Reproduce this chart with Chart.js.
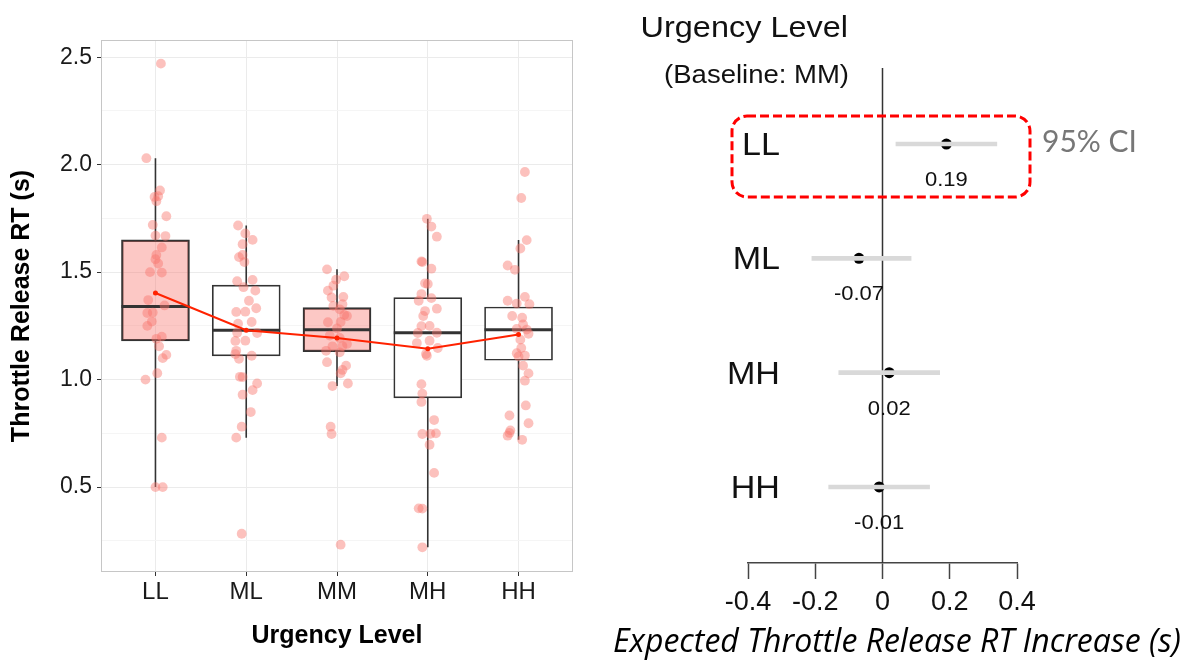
<!DOCTYPE html>
<html>
<head>
<meta charset="utf-8">
<script src="https://cdn.jsdelivr.net/npm/chart.js@4.4.0/dist/chart.umd.min.js"></script>
<style>
  body { margin: 0; background: #fff; width: 1188px; height: 667px; overflow: hidden; position: relative; }
  #boxChart { position: absolute; left: 0; top: 0; }
  #forestChart { position: absolute; left: 590px; top: 0; }
</style>
</head>
<body>
<canvas id="boxChart" width="590" height="667"></canvas>
<canvas id="forestChart" width="598" height="667"></canvas>
<script>
const levels = ['LL', 'ML', 'MM', 'MH', 'HH'];

// box summaries (s)
const boxQ1 = [1.18, 1.11, 1.13, 0.915, 1.09];
const boxMedian = [1.34, 1.23, 1.232, 1.218, 1.232];
const boxQ3 = [1.65, 1.44, 1.335, 1.382, 1.338];
const whiskerLow = [0.5, 0.73, 0.97, 0.22, 0.72];
const whiskerHigh = [2.03, 1.717, 1.513, 1.748, 1.649];
const levelMeans = [1.403, 1.23, 1.194, 1.144, 1.21];

// per-driver release times and their horizontal jitter
const rtLL = [2.47, 2.03, 1.88, 1.85, 1.853, 1.83, 1.76, 1.72, 1.67, 1.668, 1.615, 1.58, 1.56, 1.54, 1.5, 1.498,
  1.37, 1.345, 1.31, 1.312, 1.27, 1.25, 1.19, 1.2, 1.155, 1.1, 1.115, 1.03, 1.0, 0.73, 0.5, 0.5];
const jitterLL = [0.06, -0.1, 0.05, -0.01, 0.03, 0.01, 0.12, -0.03, 0, 0.11, 0.07, 0.01, 0, 0.03, -0.06, 0.07,
  -0.08, 0.1, -0.09, -0.03, -0.04, -0.09, 0.01, 0.07, 0.04, 0.08, 0.12, 0.02, -0.11, 0.07, 0, 0.08];
const rtML = [1.717, 1.68, 1.65, 1.63, 1.57, 1.58, 1.547, 1.458, 1.464, 1.43, 1.414, 1.367, 1.332, 1.315, 1.316, 1.268, 1.26,
  1.217, 1.218, 1.181, 1.18, 1.134, 1.119, 1.097, 1.111, 1.013, 1.012, 0.982, 0.951, 0.93, 0.849, 0.781, 0.73, 0.283];
const jitterML = [-0.09, -0.01, 0.07, -0.04, -0.08, -0.04, -0.02, -0.1, 0.07, -0.03, 0.1, 0.03, 0.11, -0.11, -0.01, 0.06, -0.09,
  0.12, -0.1, -0.01, -0.12, -0.11, -0.12, -0.08, 0.06, -0.07, -0.04, 0.12, 0.07, -0.04, 0.05, -0.05, -0.11, -0.05];
const rtMM = [1.513, 1.481, 1.465, 1.437, 1.414, 1.385, 1.382, 1.351, 1.343, 1.327, 1.296, 1.301, 1.268, 1.267, 1.238, 1.205,
  1.194, 1.166, 1.155, 1.156, 1.134, 1.127, 1.081, 1.065, 1.045, 1.029, 0.982, 0.97, 0.781, 0.747, 0.232];
const jitterMM = [-0.11, 0.08, -0.01, -0.04, -0.1, 0.07, -0.06, 0.06, -0.04, 0.03, 0.11, 0.08, 0.04, -0.1, 0, -0.08,
  0.03, 0.11, -0.05, 0.06, -0.12, 0.03, -0.11, 0.1, 0.06, 0.04, 0.12, -0.05, -0.07, -0.06, 0.04];
const rtMH = [1.748, 1.712, 1.665, 1.55, 1.547, 1.516, 1.448, 1.445, 1.398, 1.379, 1.367, 1.33, 1.319, 1.296, 1.249, 1.25,
  1.217, 1.218, 1.181, 1.17, 1.147, 1.119, 1.111, 0.979, 0.935, 0.896, 0.812, 0.747, 0.748, 0.75, 0.697, 0.566, 0.401, 0.4, 0.22];
const jitterMH = [-0.01, 0.04, 0.1, -0.07, -0.06, 0.04, -0.03, 0, -0.07, 0.04, -0.1, 0.1, -0.03, -0.05, -0.07, 0.02,
  -0.11, 0.1, 0.02, -0.12, 0.11, -0.02, -0.01, -0.07, -0.06, -0.07, 0.07, -0.06, 0.03, 0.09, 0.02, 0.07, -0.1, -0.06, -0.06];
const rtHH = [1.966, 1.845, 1.649, 1.61, 1.531, 1.511, 1.367, 1.354, 1.385, 1.351, 1.296, 1.288, 1.257, 1.236, 1.233, 1.213,
  1.186, 1.147, 1.123, 1.108, 1.112, 1.065, 1.029, 0.995, 0.88, 0.833, 0.797, 0.764, 0.739, 0.752, 0.72];
const jitterHH = [0.07, 0.03, 0.09, 0.02, -0.12, -0.04, -0.12, -0.02, 0.07, 0.12, -0.07, 0.04, 0.05, -0.02, 0.09, 0.11,
  0.02, 0.03, -0.02, 0, 0.07, 0.05, 0.11, 0.07, 0.08, -0.1, 0.11, -0.09, -0.12, -0.1, 0.04];

// model contrasts against MM
const contrastLevels = ['LL', 'ML', 'MH', 'HH'];
const estimate = [0.19, -0.07, 0.02, -0.01];
const ciLow = [0.04, -0.21, -0.13, -0.16];
const ciHigh = [0.34, 0.085, 0.17, 0.14];
const effectTicks = [-0.4, -0.2, 0, 0.2, 0.4];

const SANS = '"Liberation Sans", Arial, Helvetica, sans-serif';
Chart.defaults.font.family = SANS;

const groups = [[rtLL, jitterLL], [rtML, jitterML], [rtMM, jitterMM], [rtMH, jitterMH], [rtHH, jitterHH]];
const jitterPoints = groups.flatMap(([rt, jit], g) => rt.map((v, k) => ({ x: g + 1 + jit[k], y: v })));
const boxFill = levels.map(l => (l === 'LL' || l === 'MM') ? 'rgba(248,118,109,0.4)' : '#ffffff');
const isMajor = v => Math.abs(v * 2 - Math.round(v * 2)) < 1e-6;

// whiskers, medians and the panel frame for the box plot
const boxParts = {
  id: 'boxParts',
  beforeDatasetsDraw(chart) {
    const { ctx, chartArea: a } = chart;
    ctx.save();
    ctx.strokeStyle = '#c6c6c6';
    ctx.lineWidth = 1;
    ctx.strokeRect(a.left + 0.5, a.top + 0.5, a.width - 1, a.height - 1);
    ctx.restore();
  },
  beforeDatasetDraw(chart, args) {
    if (args.index !== 0) return;
    const { ctx, scales: { y } } = chart;
    ctx.save();
    ctx.strokeStyle = '#333';
    ctx.lineWidth = 1.6;
    args.meta.data.forEach((bar, i) => {
      ctx.beginPath();
      ctx.moveTo(bar.x, y.getPixelForValue(boxQ3[i]));
      ctx.lineTo(bar.x, y.getPixelForValue(whiskerHigh[i]));
      ctx.moveTo(bar.x, y.getPixelForValue(boxQ1[i]));
      ctx.lineTo(bar.x, y.getPixelForValue(whiskerLow[i]));
      ctx.stroke();
    });
    ctx.restore();
  },
  afterDatasetDraw(chart, args) {
    if (args.index !== 0) return;
    const { ctx, scales: { y } } = chart;
    ctx.save();
    ctx.strokeStyle = '#333';
    ctx.lineWidth = 3;
    args.meta.data.forEach((bar, i) => {
      const py = y.getPixelForValue(boxMedian[i]);
      ctx.beginPath();
      ctx.moveTo(bar.x - bar.width / 2, py);
      ctx.lineTo(bar.x + bar.width / 2, py);
      ctx.stroke();
    });
    ctx.restore();
  }
};

new Chart(document.getElementById('boxChart'), {
  type: 'scatter',
  data: {
    datasets: [
      {
        type: 'bar',
        data: levels.map((l, i) => ({ x: i + 1, y: [boxQ1[i], boxQ3[i]] })),
        backgroundColor: boxFill,
        borderColor: '#333',
        borderWidth: 1.7,
        borderSkipped: false,
        barThickness: 68,
        order: 3
      },
      {
        type: 'scatter',
        data: jitterPoints,
        pointRadius: 4.9,
        pointBackgroundColor: 'rgba(248,118,109,0.45)',
        pointBorderWidth: 0,
        order: 2
      },
      {
        type: 'line',
        data: levelMeans.map((m, i) => ({ x: i + 1, y: m })),
        borderColor: '#ff2200',
        borderWidth: 2,
        pointRadius: 2.5,
        pointBackgroundColor: '#ff2200',
        pointBorderWidth: 0,
        order: 1
      }
    ]
  },
  options: {
    responsive: false,
    animation: false,
    devicePixelRatio: 1,
    layout: { padding: { top: 40, right: 17, left: 0, bottom: 0 } },
    plugins: { legend: { display: false }, tooltip: { enabled: false } },
    scales: {
      x: {
        type: 'linear',
        min: 0.4,
        max: 5.6,
        offset: false,
        afterBuildTicks: s => { s.ticks = levels.map((l, i) => ({ value: i + 1 })); },
        afterFit: s => { s.height = 95; },
        ticks: { callback: v => levels[v - 1], font: { size: 24 }, color: '#1a1a1a', padding: 2, autoSkip: false, maxRotation: 0 },
        grid: { offset: false, color: '#ebebeb', tickColor: '#333', tickLength: 4 },
        border: { display: false },
        title: { display: true, text: 'Urgency Level', color: '#000', font: { size: 25, weight: 'bold' }, padding: { top: 0, bottom: 16 } }
      },
      y: {
        type: 'linear',
        min: 0.105,
        max: 2.58,
        beginAtZero: false,
        afterBuildTicks: s => { s.ticks = [0.25, 0.5, 0.75, 1, 1.25, 1.5, 1.75, 2, 2.25, 2.5].map(v => ({ value: v })); },
        afterFit: s => { s.width = 101; },
        ticks: { callback: v => isMajor(v) ? v.toFixed(1) : '', font: { size: 23 }, color: '#1a1a1a', padding: 5, autoSkip: false },
        grid: {
          color: c => isMajor(c.tick.value) ? '#ebebeb' : '#f5f5f5',
          tickColor: c => isMajor(c.tick.value) ? '#333' : 'rgba(0,0,0,0)',
          tickLength: 4
        },
        border: { display: false },
        title: { display: true, text: 'Throttle Release RT (s)', color: '#000', font: { size: 25, weight: 'bold' }, padding: { top: 7, bottom: 0 } }
      }
    }
  },
  plugins: [boxParts]
});

function wideText(ctx, text, x, y, sx) {
  ctx.save();
  ctx.translate(x, y);
  ctx.scale(sx, 1);
  ctx.fillText(text, 0, 0);
  ctx.restore();
}

// zero reference line, labels and the highlighted LL row
const forestParts = {
  id: 'forestParts',
  beforeDatasetsDraw(chart) {
    const { ctx, chartArea: a, scales: { x } } = chart;
    const zx = x.getPixelForValue(0);
    ctx.save();
    ctx.strokeStyle = '#333';
    ctx.lineWidth = 1.5;
    ctx.beginPath();
    ctx.moveTo(zx, a.top);
    ctx.lineTo(zx, a.bottom);
    ctx.stroke();
    ctx.restore();
  },
  afterDraw(chart) {
    const { ctx, scales: { x, y } } = chart;
    ctx.save();
    ctx.fillStyle = '#111';
    ctx.textBaseline = 'alphabetic';
    ctx.textAlign = 'right';
    ctx.font = '29.5px ' + SANS;
    wideText(ctx, 'Urgency Level', 258, 37, 1.1);
    ctx.font = '25px ' + SANS;
    wideText(ctx, '(Baseline: MM)', 259, 83, 1.1);

    ctx.font = '31px ' + SANS;
    contrastLevels.forEach((l, i) => {
      wideText(ctx, l, 190, y.getPixelForValue(i + 1) + 11, 1.1);
    });
    ctx.textAlign = 'center';
    ctx.font = '20px ' + SANS;
    estimate.forEach((e, i) => {
      wideText(ctx, e.toFixed(2), x.getPixelForValue(e), y.getPixelForValue(i + 1) + 42, 1.1);
    });

    ctx.strokeStyle = '#f00';
    ctx.lineWidth = 3;
    ctx.setLineDash([9, 4]);
    ctx.beginPath();
    ctx.roundRect(142, 116, 298, 81, 15);
    ctx.stroke();
    ctx.setLineDash([]);

    ctx.textAlign = 'left';
    ctx.fillStyle = '#777';
    ctx.font = '30px Lato, "Open Sans", sans-serif';
    ctx.fillText('95% CI', 452, 152);

    ctx.fillStyle = '#000';
    ctx.textAlign = 'center';
    ctx.font = 'italic 32px "Open Sans", Lato, sans-serif';
    ctx.fillText('Expected Throttle Release RT Increase (s)', 307, 652);
    ctx.restore();
  }
};

new Chart(document.getElementById('forestChart'), {
  type: 'scatter',
  data: {
    datasets: [
      {
        type: 'bar',
        indexAxis: 'y',
        data: contrastLevels.map((l, i) => ({ y: i + 1, x: [ciLow[i], ciHigh[i]] })),
        backgroundColor: '#d9d9d9',
        borderWidth: 0,
        barThickness: 4,
        order: 1
      },
      {
        type: 'scatter',
        data: estimate.map((e, i) => ({ x: e, y: i + 1 })),
        pointRadius: 5.5,
        pointBackgroundColor: '#000',
        pointBorderWidth: 0,
        order: 2
      }
    ]
  },
  options: {
    responsive: false,
    animation: false,
    devicePixelRatio: 1,
    layout: { padding: { top: 68, left: 158, right: 171, bottom: 0 } },
    plugins: { legend: { display: false }, tooltip: { enabled: false } },
    scales: {
      x: {
        type: 'linear',
        min: -0.4,
        max: 0.4,
        beginAtZero: false,
        afterBuildTicks: s => { s.ticks = effectTicks.map(v => ({ value: v })); },
        afterFit: s => { s.height = 104; },
        ticks: { callback: v => v === 0 ? '0' : v.toFixed(1), font: { size: 27 }, color: '#111', padding: 7, autoSkip: false, maxRotation: 0 },
        grid: { drawOnChartArea: false, tickLength: 16, tickColor: '#444', tickWidth: 1.5 },
        border: { color: '#444', width: 1.5 }
      },
      y: { type: 'linear', display: false, reverse: true, offset: false, grid: { offset: false }, min: 0.335, max: 4.665 }
    }
  },
  plugins: [forestParts]
});
</script>
</body>
</html>
